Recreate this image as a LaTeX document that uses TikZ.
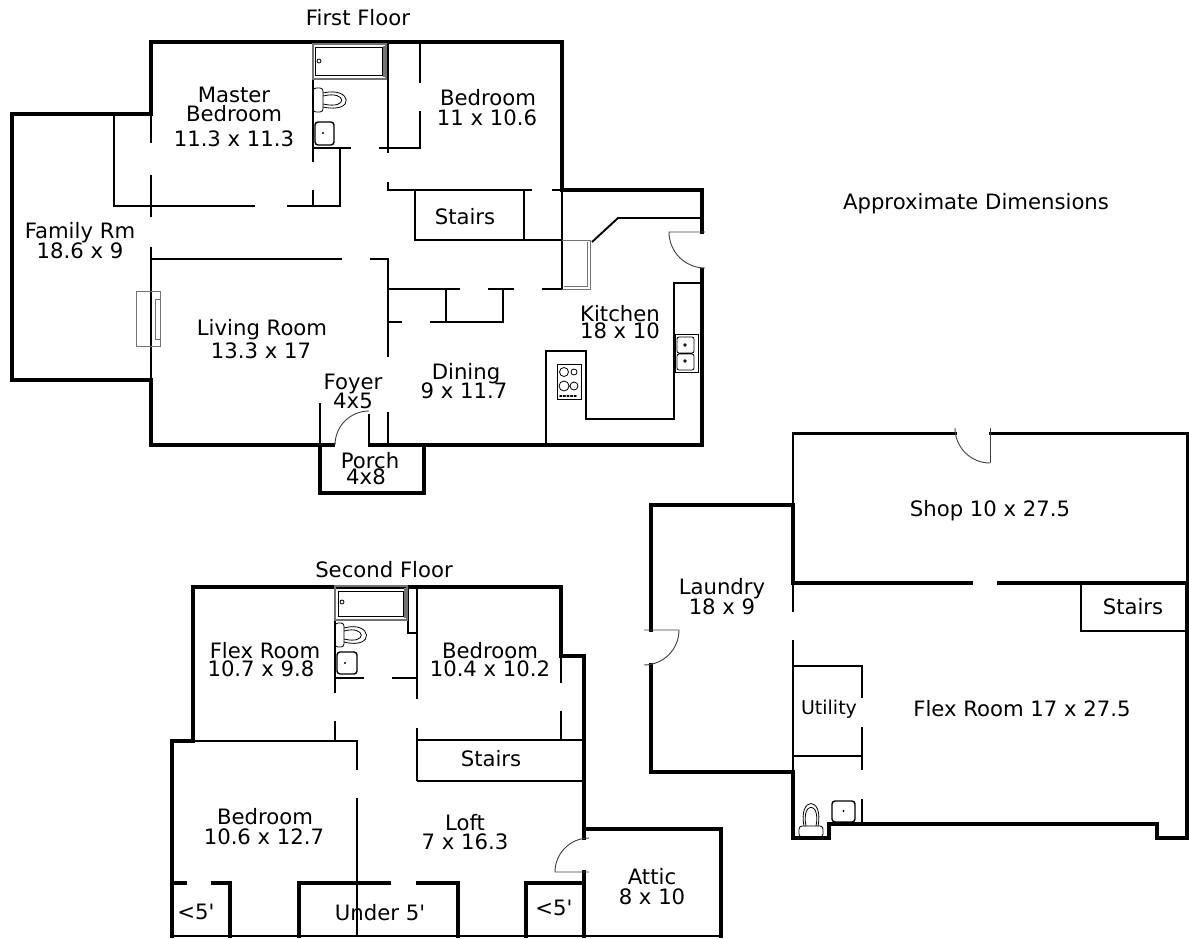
\documentclass[tikz,border=0pt]{standalone}
\usepackage{fontspec}
\setmainfont{DejaVu Sans}

\begin{document}
\begin{tikzpicture}[
	x=1pt, y=-1pt,
	wall/.style={draw=black, line width=3.4pt, line cap=rect, line join=miter},
	inner wall/.style={draw=black, line width=1.9pt},
	door/.style={draw=black!75, line width=0.9pt},
	fixture/.style={draw=black, line width=0.8pt},
	grey fixture/.style={draw=black!55, line width=0.9pt},
	basin/.style={draw=black, line width=1.4pt, rounded corners=3pt},
	room/.style={inner sep=0pt, text depth=0pt, font=\fontsize{21.2}{24}\selectfont},
	small room/.style={inner sep=0pt, text depth=0pt, font=\fontsize{19}{22}\selectfont}
]
\useasboundingbox (0,0) rectangle (1189,938);

% first floor
\draw[wall] (320,445) -- (151,445) -- (151,380) -- (12,380) -- (12,114) -- (151,114) -- (151,42)
	-- (562,42) -- (562,190) -- (702,190) -- (702,232);
\draw[wall] (333,445) -- (320,445) -- (320,493) -- (424,493) -- (424,445);
\draw[wall] (370,445) -- (702,445) -- (702,270);
\draw[wall, line width=2.6pt] (313,42) -- (313,79);
\draw[inner wall] (151,114) -- (151,143) (151,175) -- (151,217) (151,247) -- (151,380);
\draw[inner wall] (114,114) -- (114,206) -- (255,206);
\draw[inner wall] (287,206) -- (340,206) -- (340,148);
\draw[inner wall] (313,79) -- (313,162) (313,190) -- (313,206);
\draw[inner wall] (313,148) -- (351,148);
\draw[inner wall] (379,148) -- (420,148) -- (420,111);
\draw[inner wall] (420,42) -- (420,83);
\draw[inner wall] (388,42) -- (388,153);
\draw[inner wall] (388,182) -- (388,190) -- (532,190);
\draw[inner wall] (552,190) -- (562,190);
\draw[inner wall] (415,190) -- (415,240) -- (562,240);
\draw[inner wall] (524,190) -- (524,240);
\draw[inner wall] (151,259) -- (342,259);
\draw[inner wall] (370,259) -- (388,259) -- (388,357);
\draw[inner wall] (388,412) -- (388,445);
\draw[inner wall] (320,403) -- (320,445);
\draw[inner wall] (369,414) -- (369,445);
\draw[inner wall] (388,289) -- (460,289) (488,289) -- (514,289) (542,289) -- (562,289);
\draw[inner wall] (388,322) -- (402,322);
\draw[inner wall] (430,322) -- (503,322) -- (503,289);
\draw[inner wall] (446,289) -- (446,322);
\draw[inner wall, line width=2.6pt] (562,190) -- (562,289);
\draw[inner wall] (702,283) -- (674,283) -- (674,419) -- (586,419) -- (586,351) -- (546,351) -- (546,445);
\draw[inner wall] (702,218) -- (618,218) -- (592,242);
% first floor doors
\draw[door] (335,445) arc[start angle=180, end angle=270, radius=34];
\draw[door] (705,232) -- (669,232) arc[start angle=180, end angle=90, radius=36];
% first floor fixtures
\draw[grey fixture] (136,291) rectangle (160,346) (155,299) rectangle (160,339);
\draw[grey fixture] (562,240) -- (590,240) -- (590,289) -- (562,289) (587,242) -- (587,287) (564,286) -- (587,286);
\draw[grey fixture, line width=1.4pt] (313,44) rectangle (386,79) (384,46) -- (384,77);
\draw[fixture] (315,47) rectangle (382,75);
\draw[fixture] (319,61) circle (2);
\draw[fixture, rounded corners=3pt] (313,88) rectangle (323,112);
\draw[fixture] (323,93) .. controls (352,86) and (356,114) .. (323,107);
\draw[fixture] (323,96) .. controls (347,90) and (349,110) .. (323,104);
\draw[basin] (315,122) rectangle (334,145);
\fill (323,133) circle (1.2);
\draw[fixture] (675,334) rectangle (698,372);
\draw[fixture, rounded corners=2pt] (677,337) rectangle (694,353) (677,354) rectangle (694,370);
\draw[fixture] (685,345) circle (1.3) (685,361) circle (1.3);
\draw[fixture, line width=1pt] (557,364) rectangle (581,399);
\draw[fixture] (564,372) circle (4.5) (574,372) circle (3) (564,386) circle (5) (574,386) circle (4);
\draw[dotted, line width=1.6pt, line cap=round] (560,396) -- (577,396);

% second floor
\draw[wall] (172,936) -- (172,741) -- (193,741) -- (193,587) -- (561,587) -- (561,656) -- (584,656) -- (584,838);
\draw[wall] (584,872) -- (584,936);
\draw[wall] (584,829) -- (721,829) -- (721,936);
\draw[wall] (172,883) -- (185,883) (213,883) -- (230,883) -- (230,936);
\draw[wall] (299,936) -- (299,883) -- (389,883);
\draw[wall] (418,883) -- (458,883) -- (458,936);
\draw[wall] (526,936) -- (526,883) -- (584,883);
\draw[inner wall, line width=2.2pt] (172,936) -- (721,936);
\draw[inner wall] (335,587) -- (335,693) (335,721) -- (335,741);
\draw[inner wall] (193,741) -- (357,741) -- (357,770);
\draw[inner wall] (357,798) -- (357,936);
\draw[inner wall] (335,678) -- (364,678);
\draw[inner wall] (392,678) -- (417,678);
\draw[inner wall] (417,587) -- (417,699) (417,728) -- (417,781);
\draw[inner wall] (408,587) -- (408,633) -- (417,633);
\draw[inner wall] (417,740) -- (584,740);
\draw[inner wall] (417,781) -- (584,781);
\draw[inner wall] (561,656) -- (561,683) (561,711) -- (561,740);
% second floor door
\draw[door] (589,872) -- (555,872) arc[start angle=180, end angle=270, radius=34];
% second floor fixtures
\draw[grey fixture, line width=1.4pt] (335,586) rectangle (407,620) (405,588) -- (405,618);
\draw[fixture] (338,591) rectangle (403,616);
\draw[fixture] (342,602) circle (2);
\draw[fixture, rounded corners=3pt] (335,623) rectangle (344,647);
\draw[fixture] (344,628) .. controls (372,620) and (376,650) .. (344,642);
\draw[fixture] (344,631) .. controls (366,625) and (368,645) .. (344,639);
\draw[basin] (337,652) rectangle (357,674);
\fill (345,663) circle (1.2);

% basement
\draw[wall] (793,505) -- (793,583) -- (971,583);
\draw[wall] (999,583) -- (1187,583);
\draw[wall] (793,505) -- (651,505) -- (651,630);
\draw[wall] (651,665) -- (651,772) -- (793,772) -- (793,838) -- (829,838) -- (829,824)
	-- (1157,824) -- (1157,838) -- (1187,838) -- (1187,583);
\draw[wall, line width=3pt] (955,433) -- (793,433);
\draw[wall, line width=3pt] (990,433) -- (1187,433) -- (1187,583);
\draw[inner wall, line width=2.4pt] (793,433) -- (793,505);
\draw[inner wall] (793,583) -- (793,612) (793,640) -- (793,772);
\draw[inner wall] (1081,583) -- (1081,631) -- (1187,631);
\draw[inner wall] (793,666) -- (862,666) -- (862,698);
\draw[inner wall] (862,727) -- (862,770) (862,799) -- (862,824);
\draw[inner wall] (793,756) -- (862,756);
% basement doors
\draw[door] (990,463) -- (990,428);
\draw[door] (955,428) arc[start angle=180, end angle=90, radius=35];
\draw[door] (644,630) -- (679,630) arc[start angle=0, end angle=90, radius=35] -- (644,665);
% basement fixtures
\draw[fixture, rounded corners=3pt] (799,826) rectangle (823,837);
\draw[fixture] (804,826) .. controls (798,796) and (824,796) .. (818,826);
\draw[fixture] (806,826) .. controls (801,801) and (821,801) .. (816,826);
\draw[basin] (832,801) rectangle (855,822);
\fill (843.5,811) circle (1.2);

% labels
\node[room] (firstfloor) at (358,17) {First Floor};
\node[room] (master1) at (234,95) {Master};
\node[room] (master2) at (234,113) {Bedroom};
\node[room] (master3) at (234,139) {11.3 x 11.3};
\node[room] (bedroom1) at (488,97) {Bedroom};
\node[room] (bedroom2) at (487,118) {11 x 10.6};
\node[room] (approx) at (976,201) {Approximate Dimensions};
\node[room] (stairs1) at (465,216) {Stairs};
\node[room] (family1) at (80,230) {Family Rm};
\node[room] (family2) at (80,251) {18.6 x 9};
\node[room] (living1) at (262,327) {Living Room};
\node[room] (living2) at (261,351) {13.3 x 17};
\node[room] (kitchen1) at (620,313) {Kitchen};
\node[room] (kitchen2) at (620,331) {18 x 10};
\node[room] (foyer1) at (353,382) {Foyer};
\node[room] (foyer2) at (353,401) {4x5};
\node[room] (dining1) at (466,371) {Dining};
\node[room] (dining2) at (464,391) {9 x 11.7};
\node[room] (porch1) at (370,460) {Porch};
\node[room] (porch2) at (366,477) {4x8};

\node[room] (secondfloor) at (384,569) {Second Floor};
\node[room] (flex1) at (265,650) {Flex Room};
\node[room] (flex2) at (261,669) {10.7 x 9.8};
\node[room] (bedroom3) at (490,650) {Bedroom};
\node[room] (bedroom4) at (490,669) {10.4 x 10.2};
\node[room] (stairs2) at (491,758) {Stairs};
\node[room] (bedroom5) at (265,816) {Bedroom};
\node[room] (bedroom6) at (264,837) {10.6 x 12.7};
\node[room] (loft1) at (465,822) {Loft};
\node[room] (loft2) at (465,842) {7 x 16.3};
\node[room] (attic1) at (652,876) {Attic};
\node[room] (attic2) at (652,897) {8 x 10};
\node[room] (under1) at (196,912) {<5\textquotesingle};
\node[room] (under2) at (380,912) {Under 5\textquotesingle};
\node[room] (under3) at (554,908) {<5\textquotesingle};

\node[room] (shop) at (990,508) {Shop 10 x 27.5};
\node[room] (laundry1) at (722,586) {Laundry};
\node[room] (laundry2) at (722,607) {18 x 9};
\node[room] (stairs3) at (1133,606) {Stairs};
\node[small room] (utility) at (829,707) {Utility};
\node[room] (flex3) at (1022,708) {Flex Room 17 x 27.5};
\end{tikzpicture}
\end{document}
